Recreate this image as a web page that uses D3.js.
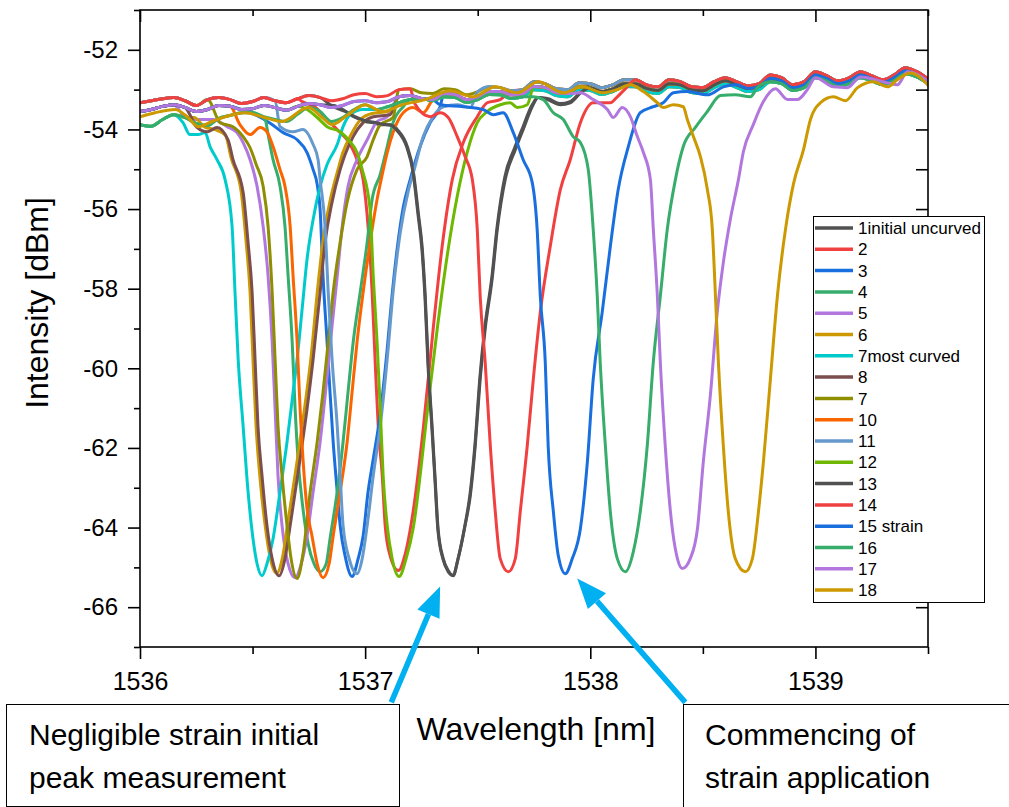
<!DOCTYPE html>
<html>
<head>
<meta charset="utf-8">
<script src="https://cdn.jsdelivr.net/npm/d3@7"></script>
<style>
  body { margin: 0; background: #fff; }
  svg { display: block; }
</style>
</head>
<body>
<div id="chart"></div>
<script>
// Axis ticks
const xTicks = [1536, 1537, 1538, 1539];
const xMinorTicks = [1536.5, 1537.5, 1538.5, 1539.5];
const yTicks = [-52, -54, -56, -58, -60, -62, -64, -66];
const yMinorTicks = [-51, -53, -55, -57, -59, -61, -63, -65, -67];
const yRightTicks = [-52, -53, -54, -55, -56, -57, -58, -59, -60, -61, -62, -63, -64, -65, -66];

// Legend names and line colours
const seriesNames = ['1initial uncurved', '2', '3', '4', '5', '6', '7most curved', '8', '7',
  '10', '11', '12', '13', '14', '15 strain', '16', '17', '18'];
const seriesColors = ['#515151', '#F14040', '#1A6FDF', '#37AD6B', '#B177DE', '#CC9900',
  '#00CBCC', '#7D4E4E', '#8E8E00', '#FB6501', '#6699CC', '#6FB802',
  '#515151', '#F14040', '#1A6FDF', '#37AD6B', '#B177DE', '#CC9900'];

// Baseline ripple read on a 0.05 nm grid from 1536.00 to 1539.50 (upper, middle, lower part of the band)
const rippleHigh = [
  -53.33, -53.28, -53.23, -53.20, -53.28, -53.40, -53.25, -53.20, -53.25, -53.35,
  -53.30, -53.20, -53.28, -53.33, -53.23, -53.15, -53.20, -53.28, -53.23, -53.13,
  -53.10, -53.18, -53.15, -53.00, -52.98, -53.08, -53.10, -52.98, -53.00, -53.13,
  -53.05, -52.93, -52.95, -53.03, -53.00, -52.80, -52.85, -52.98, -53.00, -52.83,
  -52.85, -52.95, -52.88, -52.75, -52.75, -52.88, -52.93, -52.75, -52.80, -52.93,
  -52.95, -52.80, -52.70, -52.80, -52.90, -52.85, -52.63, -52.70, -52.88, -52.80,
  -52.55, -52.65, -52.78, -52.70, -52.55, -52.65, -52.75, -52.63, -52.45, -52.55,
  -52.73];
const rippleMid = [
  -53.55, -53.50, -53.42, -53.38, -53.45, -53.55, -53.50, -53.40, -53.42, -53.50,
  -53.48, -53.40, -53.45, -53.52, -53.42, -53.35, -53.38, -53.45, -53.40, -53.30,
  -53.28, -53.33, -53.30, -53.18, -53.15, -53.22, -53.25, -53.10, -53.12, -53.25,
  -53.18, -53.05, -53.05, -53.13, -53.10, -52.92, -52.95, -53.08, -53.10, -52.93,
  -52.95, -53.05, -52.98, -52.85, -52.85, -52.97, -53.02, -52.85, -52.88, -53.00,
  -53.03, -52.88, -52.78, -52.88, -52.97, -52.92, -52.72, -52.78, -52.95, -52.88,
  -52.63, -52.72, -52.85, -52.78, -52.63, -52.72, -52.82, -52.70, -52.53, -52.62,
  -52.80];
const rippleLow = [
  -53.88, -53.92, -53.75, -53.63, -53.70, -53.85, -53.90, -53.72, -53.65, -53.58,
  -53.58, -53.68, -53.75, -53.80, -53.62, -53.45, -53.55, -53.80, -53.70, -53.50,
  -53.38, -53.50, -53.43, -53.33, -53.25, -53.22, -53.28, -53.18, -53.20, -53.32,
  -53.25, -53.12, -53.13, -53.22, -53.18, -53.00, -53.03, -53.15, -53.18, -53.00,
  -53.02, -53.12, -53.05, -52.92, -52.93, -53.05, -53.10, -52.93, -52.95, -53.07,
  -53.10, -52.95, -52.85, -52.95, -53.05, -53.00, -52.80, -52.85, -53.02, -52.95,
  -52.70, -52.78, -52.92, -52.85, -52.70, -52.78, -52.88, -52.77, -52.60, -52.68,
  -52.85];

// Which ripple each series sits on outside its dip
const seriesBase = ['high', 'high', 'mid', 'low', 'mid', 'low', 'low', 'mid', 'high',
  'mid', 'high', 'mid', 'mid', 'high', 'mid', 'low', 'mid', 'high'];

// Dip traces [wavelength nm, intensity dBm]
const dip1 = [[1536.858,-53.43],[1536.911,-53.55],[1536.956,-53.70],[1537.0,-53.80],[1537.036,-53.83],[1537.067,-53.88],[1537.12,-53.88],[1537.142,-54.0],[1537.187,-54.43],[1537.213,-55.01],[1537.236,-56.09],[1537.253,-56.94],[1537.267,-58.19],[1537.28,-59.84],[1537.298,-61.52],[1537.311,-62.78],[1537.324,-64.03],[1537.347,-64.78],[1537.369,-65.08],[1537.391,-65.21],[1537.413,-64.78],[1537.444,-63.95],[1537.467,-63.2],[1537.489,-61.95],[1537.511,-60.27],[1537.533,-59.02],[1537.564,-57.76],[1537.587,-56.51],[1537.622,-55.26],[1537.667,-54.51],[1537.702,-54.0],[1537.742,-53.43],[1537.769,-53.2],[1537.809,-53.25],[1537.867,-53.38],[1537.911,-53.33],[1537.956,-53.08]];
const dip2 = [[1536.72,-53.30],[1536.78,-53.45],[1536.831,-53.75],[1536.889,-54.08],[1536.92,-54.26],[1536.964,-54.76],[1536.991,-55.26],[1537.013,-56.44],[1537.031,-58.09],[1537.044,-59.77],[1537.058,-61.45],[1537.076,-62.7],[1537.089,-63.95],[1537.111,-64.71],[1537.147,-65.08],[1537.178,-64.66],[1537.213,-63.6],[1537.258,-61.52],[1537.302,-59.02],[1537.342,-56.94],[1537.387,-55.26],[1537.436,-54.33],[1537.498,-53.68],[1537.542,-53.33],[1537.6,-53.25]];
const dip3 = [[1536.5,-53.60],[1536.58,-53.85],[1536.636,-54.08],[1536.698,-54.26],[1536.742,-54.58],[1536.769,-55.01],[1536.787,-55.38],[1536.8,-56.01],[1536.813,-57.69],[1536.831,-59.34],[1536.844,-60.6],[1536.858,-61.85],[1536.876,-63.1],[1536.889,-63.95],[1536.911,-64.71],[1536.942,-65.23],[1536.969,-64.78],[1536.991,-64.21],[1537.013,-63.1],[1537.036,-62.28],[1537.067,-61.15],[1537.098,-59.52],[1537.12,-58.14],[1537.142,-57.01],[1537.169,-55.96],[1537.2,-55.26],[1537.244,-54.43],[1537.289,-53.83],[1537.333,-53.43]];
const dip4 = [[1536.489,-53.55],[1536.524,-53.63],[1536.556,-53.75],[1536.569,-54.13],[1536.591,-54.76],[1536.622,-55.43],[1536.644,-56.44],[1536.658,-57.69],[1536.676,-59.34],[1536.689,-61.02],[1536.702,-62.28],[1536.724,-63.53],[1536.747,-64.41],[1536.773,-64.91],[1536.8,-65.11],[1536.827,-64.91],[1536.844,-64.28],[1536.876,-63.1],[1536.902,-61.85],[1536.924,-60.6],[1536.947,-59.34],[1536.978,-58.09],[1537.009,-56.84],[1537.031,-55.76],[1537.067,-55.13],[1537.098,-54.43],[1537.124,-53.83],[1537.169,-53.43]];
const dip5 = [[1536.191,-53.63],[1536.253,-53.75],[1536.324,-53.75],[1536.387,-53.93],[1536.431,-54.08],[1536.458,-54.33],[1536.489,-54.76],[1536.52,-55.43],[1536.547,-56.44],[1536.569,-57.69],[1536.587,-59.34],[1536.6,-61.02],[1536.613,-62.7],[1536.631,-63.95],[1536.658,-64.91],[1536.689,-65.26],[1536.716,-64.91],[1536.742,-64.21],[1536.769,-63.1],[1536.8,-61.85],[1536.831,-60.2],[1536.853,-58.94],[1536.876,-57.69],[1536.898,-56.44],[1536.924,-55.43],[1536.964,-54.76],[1537.009,-54.26],[1537.053,-53.8],[1537.098,-53.68]];
const dip6 = [[1536.24,-53.70],[1536.29,-53.95],[1536.33,-54.0],[1536.38,-54.15],[1536.404,-54.7],[1536.449,-55.55],[1536.471,-56.8],[1536.489,-58.1],[1536.502,-59.8],[1536.516,-61.5],[1536.533,-62.75],[1536.556,-63.95],[1536.578,-64.75],[1536.607,-65.15],[1536.633,-64.75],[1536.656,-63.9],[1536.7,-62.25],[1536.731,-61.0],[1536.76,-59.7],[1536.789,-58.0],[1536.813,-56.8],[1536.844,-55.8],[1536.88,-55.0],[1536.9,-54.6],[1536.94,-54.1],[1536.98,-53.75],[1537.03,-53.6],[1537.1,-53.55]];
const dip7 = [[1536.191,-53.83],[1536.222,-54.13],[1536.258,-54.13],[1536.289,-54.08],[1536.311,-54.43],[1536.342,-54.76],[1536.378,-55.26],[1536.409,-56.44],[1536.422,-58.09],[1536.436,-59.77],[1536.458,-61.45],[1536.48,-63.1],[1536.502,-64.28],[1536.52,-64.91],[1536.542,-65.21],[1536.564,-64.91],[1536.591,-64.28],[1536.622,-63.1],[1536.653,-61.85],[1536.68,-60.6],[1536.698,-59.77],[1536.72,-58.52],[1536.742,-57.26],[1536.769,-56.26],[1536.8,-55.43],[1536.831,-54.88],[1536.876,-54.38],[1536.902,-53.93],[1536.933,-53.63],[1536.991,-53.5]];
const dip8 = [[1536.253,-53.95],[1536.298,-54.06],[1536.342,-53.95],[1536.391,-54.26],[1536.413,-54.76],[1536.458,-55.58],[1536.48,-56.84],[1536.498,-58.09],[1536.511,-59.77],[1536.524,-61.45],[1536.542,-62.7],[1536.564,-63.95],[1536.587,-64.78],[1536.618,-65.21],[1536.644,-64.78],[1536.667,-63.95],[1536.711,-62.28],[1536.742,-61.02],[1536.769,-59.77],[1536.8,-58.09],[1536.822,-56.84],[1536.853,-55.83],[1536.889,-55.01],[1536.911,-54.63],[1536.947,-54.18],[1536.991,-53.83],[1537.036,-53.68],[1537.111,-53.63]];
const dip9 = [[1536.356,-53.83],[1536.413,-53.93],[1536.458,-54.18],[1536.489,-54.46],[1536.516,-54.88],[1536.547,-55.43],[1536.569,-56.44],[1536.587,-58.09],[1536.6,-59.77],[1536.613,-61.45],[1536.631,-62.7],[1536.653,-63.95],[1536.671,-64.78],[1536.698,-65.28],[1536.724,-64.66],[1536.756,-63.1],[1536.787,-61.85],[1536.813,-60.6],[1536.836,-59.34],[1536.858,-58.09],[1536.889,-56.84],[1536.92,-55.83],[1536.964,-55.01],[1537.009,-54.68],[1537.036,-54.26],[1537.067,-53.88],[1537.124,-53.7]];
const dip10 = [[1536.444,-53.88],[1536.489,-54.13],[1536.533,-53.95],[1536.564,-54.06],[1536.591,-54.43],[1536.622,-55.01],[1536.644,-55.43],[1536.667,-56.44],[1536.68,-57.69],[1536.698,-59.34],[1536.711,-61.02],[1536.724,-62.28],[1536.742,-63.53],[1536.764,-64.21],[1536.787,-64.91],[1536.813,-65.26],[1536.84,-64.91],[1536.858,-64.21],[1536.889,-63.1],[1536.92,-61.85],[1536.942,-60.6],[1536.964,-59.34],[1536.991,-58.09],[1537.022,-56.84],[1537.053,-55.76],[1537.076,-55.13],[1537.098,-54.58],[1537.124,-54.08],[1537.169,-53.58],[1537.213,-53.45],[1537.258,-53.58]];
const dip11 = [[1536.622,-53.93],[1536.68,-54.06],[1536.724,-54.0],[1536.769,-54.38],[1536.791,-54.76],[1536.8,-55.26],[1536.822,-56.44],[1536.836,-58.09],[1536.853,-59.77],[1536.876,-61.45],[1536.889,-62.7],[1536.902,-63.95],[1536.929,-64.78],[1536.964,-65.16],[1536.987,-64.78],[1537.009,-63.95],[1537.036,-62.7],[1537.067,-61.45],[1537.098,-59.77],[1537.124,-58.09],[1537.156,-56.59],[1537.191,-55.56],[1537.218,-55.01],[1537.258,-54.18],[1537.302,-53.68],[1537.347,-53.43],[1537.409,-53.38],[1537.467,-53.45]];
const dip12 = [[1536.742,-53.5],[1536.787,-53.7],[1536.831,-53.93],[1536.889,-54.06],[1536.933,-54.31],[1536.964,-54.58],[1536.987,-55.01],[1537.022,-56.01],[1537.036,-57.69],[1537.053,-59.34],[1537.067,-61.02],[1537.08,-62.7],[1537.098,-63.95],[1537.12,-64.78],[1537.151,-65.23],[1537.182,-64.78],[1537.213,-64.03],[1537.276,-61.1],[1537.32,-59.02],[1537.364,-57.19],[1537.409,-55.68],[1537.453,-54.58],[1537.498,-53.83],[1537.542,-53.55],[1537.6,-53.38],[1537.644,-53.33],[1537.676,-53.45],[1537.72,-53.38]];
const dip13 = [[1536.86,-53.40],[1536.91,-53.53],[1536.955,-53.68],[1537.0,-53.78],[1537.04,-53.82],[1537.07,-53.86],[1537.118,-53.9],[1537.14,-54.02],[1537.185,-54.45],[1537.212,-55.05],[1537.235,-56.15],[1537.252,-57.0],[1537.266,-58.25],[1537.279,-59.9],[1537.297,-61.55],[1537.31,-62.8],[1537.323,-64.05],[1537.346,-64.8],[1537.368,-65.1],[1537.39,-65.2],[1537.412,-64.8],[1537.443,-63.95],[1537.466,-63.15],[1537.488,-61.9],[1537.51,-60.2],[1537.532,-58.95],[1537.563,-57.7],[1537.586,-56.45],[1537.62,-55.2],[1537.665,-54.45],[1537.7,-53.95],[1537.74,-53.4],[1537.768,-53.2],[1537.81,-53.22],[1537.865,-53.35],[1537.91,-53.3],[1537.955,-53.08]];
const dip14 = [[1537.22,-53.35],[1537.289,-53.68],[1537.333,-53.58],[1537.369,-53.7],[1537.409,-54.18],[1537.444,-54.68],[1537.476,-55.26],[1537.498,-56.51],[1537.511,-58.19],[1537.533,-59.84],[1537.556,-61.95],[1537.578,-63.6],[1537.6,-64.78],[1537.636,-65.11],[1537.667,-64.78],[1537.689,-63.6],[1537.72,-61.95],[1537.747,-60.27],[1537.778,-58.59],[1537.822,-56.94],[1537.867,-55.51],[1537.911,-54.76],[1537.956,-53.83],[1538.013,-53.33],[1538.089,-53.33],[1538.12,-53.18],[1538.164,-52.93]];
const dip15 = [[1537.333,-53.38],[1537.436,-53.43],[1537.524,-53.5],[1537.569,-53.63],[1537.613,-53.58],[1537.658,-54.08],[1537.702,-54.76],[1537.742,-55.33],[1537.764,-56.51],[1537.778,-58.19],[1537.8,-59.84],[1537.813,-61.95],[1537.836,-63.6],[1537.858,-64.71],[1537.889,-65.16],[1537.92,-64.78],[1537.956,-64.03],[1537.987,-62.35],[1538.013,-60.27],[1538.053,-58.59],[1538.089,-56.94],[1538.124,-55.51],[1538.169,-54.43],[1538.222,-53.58],[1538.28,-53.43],[1538.324,-53.33],[1538.369,-53.08],[1538.431,-53.05],[1538.52,-53.13],[1538.591,-52.93]];
const dip16 = [[1537.747,-53.18],[1537.791,-53.25],[1537.836,-53.58],[1537.88,-53.75],[1537.924,-54.18],[1537.956,-54.33],[1537.991,-55.01],[1538.013,-56.51],[1538.031,-58.19],[1538.044,-59.84],[1538.067,-61.95],[1538.089,-63.6],[1538.12,-64.78],[1538.156,-65.11],[1538.191,-64.61],[1538.222,-63.6],[1538.253,-61.95],[1538.28,-59.84],[1538.311,-58.19],[1538.342,-56.51],[1538.378,-55.26],[1538.413,-54.43],[1538.467,-53.95],[1538.52,-53.55],[1538.578,-53.15],[1538.644,-53.13],[1538.711,-53.18],[1538.742,-52.95]];
const dip17 = [[1537.956,-53.08],[1538.013,-53.25],[1538.076,-53.5],[1538.102,-53.7],[1538.142,-53.45],[1538.178,-53.68],[1538.209,-54.18],[1538.236,-54.58],[1538.267,-55.26],[1538.28,-56.51],[1538.298,-58.19],[1538.311,-59.84],[1538.333,-61.95],[1538.356,-63.6],[1538.387,-64.78],[1538.409,-65.03],[1538.444,-64.78],[1538.476,-64.03],[1538.502,-62.35],[1538.533,-60.7],[1538.564,-58.59],[1538.591,-57.34],[1538.622,-56.26],[1538.658,-55.26],[1538.68,-54.56],[1538.724,-53.88],[1538.769,-53.3],[1538.822,-52.98],[1538.876,-53.25],[1538.92,-53.25],[1538.964,-53.0],[1539.0,-52.7],[1539.08,-52.93],[1539.142,-52.95],[1539.2,-52.68],[1539.32,-52.83],[1539.364,-52.88],[1539.409,-52.55],[1539.502,-52.8]];
const dip18 = [[1536.0,-53.68],[1536.067,-53.58],[1536.156,-53.5],[1536.213,-53.7],[1536.258,-53.93],[1536.32,-53.8],[1536.378,-53.68],[1536.467,-53.58],[1536.542,-53.68],[1536.631,-53.8],[1536.747,-53.45],[1536.809,-53.7],[1536.853,-53.88],[1536.924,-53.63],[1537.0,-53.38],[1537.076,-53.55],[1537.164,-53.38],[1537.267,-53.25],[1537.378,-53.03],[1537.48,-53.18],[1537.578,-52.93],[1537.676,-53.08],[1537.769,-52.8],[1537.88,-53.08],[1537.964,-52.93],[1538.058,-53.08],[1538.12,-53.0],[1538.178,-52.88],[1538.236,-53.05],[1538.298,-53.33],[1538.324,-53.45],[1538.369,-53.38],[1538.413,-53.43],[1538.431,-53.75],[1538.458,-54.18],[1538.489,-54.68],[1538.52,-55.51],[1538.542,-56.51],[1538.556,-58.19],[1538.569,-59.84],[1538.591,-61.95],[1538.613,-63.6],[1538.644,-64.78],[1538.689,-65.11],[1538.72,-64.78],[1538.747,-63.6],[1538.769,-62.35],[1538.8,-60.27],[1538.831,-58.19],[1538.867,-56.51],[1538.902,-55.38],[1538.947,-54.51],[1538.978,-53.75],[1539.022,-53.33],[1539.08,-53.18],[1539.133,-53.28],[1539.187,-52.95],[1539.258,-52.8],[1539.32,-52.93],[1539.364,-52.75],[1539.422,-52.58],[1539.502,-52.9]];
const seriesDips = [dip1, dip2, dip3, dip4, dip5, dip6, dip7, dip8, dip9, dip10, dip11, dip12,
  dip13, dip14, dip15, dip16, dip17, dip18];

// Annotation arrows (tail below the axis, tip at the dip) in data units
const arrowNotes = [
  { tail: [1537.116, -68.39], tip: [1537.333, -65.48] },
  { tail: [1538.422, -68.39], tip: [1537.942, -65.28] }
];

const W = 1009, H = 807;
const font = '"Liberation Sans", Arial, Helvetica, sans-serif';

const svg = d3.select('#chart').append('svg')
    .attr('width', W)
    .attr('height', H);
svg.append('rect').attr('width', W).attr('height', H).attr('fill', '#fff');

// Scales
const x = d3.scaleLinear().domain([1536, 1539.5]).range([140, 928]);
const y = d3.scaleLinear().domain([-67, -51]).range([647, 10]);

// Put each series together: ripple left of the dip, the dip, ripple right of the dip
const ripple = { high: rippleHigh, mid: rippleMid, low: rippleLow };
const grid = d3.range(rippleHigh.length).map(i => +(1536 + i * 0.05).toFixed(2));
const series = seriesDips.map((dip, i) => {
    const base = grid.map((w, k) => [w, ripple[seriesBase[i]][k]]);
    const first = dip[0][0];
    const last = dip[dip.length - 1][0];
    const before = base.filter(p => p[0] < first - 0.01);
    const after = base.filter(p => p[0] > last + 0.01);
    return before.concat(dip, after);
});

// Data lines, clipped to the frame
svg.append('clipPath').attr('id', 'plot-clip')
    .append('rect').attr('x', 140).attr('y', 10).attr('width', 788).attr('height', 637);

const line = d3.line()
    .x(d => x(d[0]))
    .y(d => y(d[1]))
    .curve(d3.curveMonotoneX);

svg.append('g')
    .attr('clip-path', 'url(#plot-clip)')
    .selectAll('path')
    .data(series)
    .enter()
    .append('path')
    .attr('d', line)
    .attr('fill', 'none')
    .attr('stroke', (d, i) => seriesColors[i])
    .attr('stroke-width', 3)
    .attr('stroke-linejoin', 'round');

// Axes
function styleAxis(g, size) {
    g.select('.domain').remove();
    g.attr('font-family', font).attr('font-size', size || 10);
    g.selectAll('line').attr('stroke', '#000').attr('stroke-width', 1.6);
    g.selectAll('text').attr('fill', '#000');
}

svg.append('g')
    .attr('transform', 'translate(0,647)')
    .call(d3.axisBottom(x).tickValues(xTicks).tickSize(12).tickPadding(13).tickFormat(d => String(d)))
    .call(g => styleAxis(g, 25));
svg.append('g')
    .attr('transform', 'translate(0,647)')
    .call(d3.axisBottom(x).tickValues(xMinorTicks).tickSize(7).tickFormat(''))
    .call(g => styleAxis(g));

svg.append('g')
    .attr('transform', 'translate(0,10)')
    .call(d3.axisBottom(x).tickValues(xTicks).tickSize(12).tickFormat(''))
    .call(g => styleAxis(g));
svg.append('g')
    .attr('transform', 'translate(0,10)')
    .call(d3.axisBottom(x).tickValues(xMinorTicks).tickSize(6).tickFormat(''))
    .call(g => styleAxis(g));

svg.append('g')
    .attr('transform', 'translate(140,0)')
    .call(d3.axisLeft(y).tickValues(yTicks).tickSize(12).tickPadding(10).tickFormat(d => String(d)))
    .call(g => styleAxis(g, 24));
svg.append('g')
    .attr('transform', 'translate(140,0)')
    .call(d3.axisLeft(y).tickValues(yMinorTicks).tickSize(6).tickFormat(''))
    .call(g => styleAxis(g));

svg.append('g')
    .attr('transform', 'translate(928,0)')
    .call(d3.axisLeft(y).tickValues(yRightTicks).tickSize(12).tickFormat(''))
    .call(g => styleAxis(g));

// Frame
svg.append('rect')
    .attr('x', 140).attr('y', 10)
    .attr('width', 788).attr('height', 637)
    .attr('fill', 'none')
    .attr('stroke', '#000')
    .attr('stroke-width', 1.6);

// Axis titles
svg.append('text')
    .attr('x', 536).attr('y', 740)
    .attr('text-anchor', 'middle')
    .attr('font-family', font).attr('font-size', 32)
    .text('Wavelength [nm]');

svg.append('text')
    .attr('transform', 'translate(48,303) rotate(-90)')
    .attr('text-anchor', 'middle')
    .attr('font-family', font).attr('font-size', 32)
    .text('Intensity [dBm]');

// Legend
const legend = svg.append('g');
legend.append('rect')
    .attr('x', 813.5).attr('y', 216.5)
    .attr('width', 171).attr('height', 386)
    .attr('fill', '#fff')
    .attr('stroke', '#000')
    .attr('stroke-width', 1);

const rows = legend.selectAll('g.row')
    .data(seriesNames)
    .enter()
    .append('g')
    .attr('class', 'row')
    .attr('transform', (d, i) => `translate(0,${228 + i * 21.3})`);
rows.append('line')
    .attr('x1', 815).attr('x2', 853)
    .attr('stroke', (d, i) => seriesColors[i])
    .attr('stroke-width', 3.5);
rows.append('text')
    .attr('x', 858).attr('dy', '0.36em')
    .attr('font-family', font).attr('font-size', 17)
    .text(d => d);

// Note boxes
const notes = [
    { x: 6, y: 704, w: 393, h: 102, tx: 29, lines: ['Negligible strain initial', 'peak measurement'] },
    { x: 683, y: 704, w: 340, h: 120, tx: 705, lines: ['Commencing of', 'strain application'] }
];
notes.forEach(n => {
    svg.append('rect')
        .attr('x', n.x + 0.5).attr('y', n.y + 0.5)
        .attr('width', n.w).attr('height', n.h)
        .attr('fill', '#fff')
        .attr('stroke', '#000')
        .attr('stroke-width', 1);
    n.lines.forEach((t, k) => {
        svg.append('text')
            .attr('x', n.tx).attr('y', 745 + k * 43)
            .attr('font-family', font).attr('font-size', 30)
            .text(t);
    });
});

// Arrows
arrowNotes.forEach(a => {
    const x0 = x(a.tail[0]), y0 = y(a.tail[1]);
    const x1 = x(a.tip[0]), y1 = y(a.tip[1]);
    const len = Math.hypot(x1 - x0, y1 - y0);
    const ux = (x1 - x0) / len, uy = (y1 - y0) / len;
    const bx = x1 - ux * 30, by = y1 - uy * 30;
    svg.append('line')
        .attr('x1', x0).attr('y1', y0)
        .attr('x2', bx).attr('y2', by)
        .attr('stroke', '#00B0F0')
        .attr('stroke-width', 5.5);
    svg.append('path')
        .attr('d', `M${x1},${y1}L${bx - uy * 12},${by + ux * 12}L${bx + uy * 12},${by - ux * 12}Z`)
        .attr('fill', '#00B0F0');
});
</script>
</body>
</html>
